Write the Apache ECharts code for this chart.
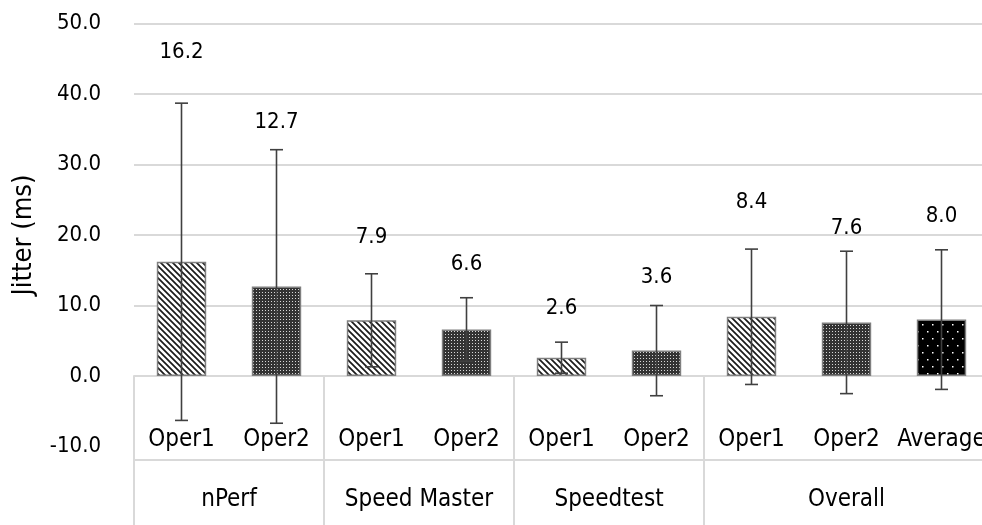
<!DOCTYPE html>
<html><head><meta charset="utf-8">
<script src="https://cdn.jsdelivr.net/npm/echarts@6/dist/echarts.min.js"></script>
<style>html,body{margin:0;padding:0;background:#fff}#c{width:982px;height:525px}</style>
</head><body><div id="c"></div>
<script>
// ---------- data ----------
const categories = ['Oper1','Oper2','Oper1','Oper2','Oper1','Oper2','Oper1','Oper2','Average'];
const groups = ['nPerf','Speed Master','Speedtest','Overall'];
const groupSizes = [2,2,2,3];
const jitterMean = [16.2,12.7,7.9,6.6,2.6,3.6,8.4,7.6,8.0];
const jitterSD = [22.5,19.4,6.6,4.5,2.2,6.4,9.6,10.1,9.9];
const yTicks = [-10,0,10,20,30,40,50];
const yTitle = 'Jitter (ms)';

// ---------- style ----------
const FONT = '"DejaVu Sans Condensed","DejaVu Sans",sans-serif';
const FS = 22;      // ticks & value labels
const FS_CAT = 24;  // category labels
const FS_TITLE = 27;
const GRID = '#d9d9d9';
const labelLift = [51,27,36,33,34,28,47,23,34];

function tile(w, h, draw) {
  const c = document.createElement('canvas'); c.width = w; c.height = h;
  draw(c.getContext('2d')); return c;
}
const hatch = tile(6, 6, g => {
  g.fillStyle = '#fff'; g.fillRect(0,0,6,6);
  g.strokeStyle = '#1a1a1a'; g.lineWidth = 1.7;
  g.beginPath();
  g.moveTo(-2,-2); g.lineTo(8,8);
  g.moveTo(-2,4); g.lineTo(2,8);
  g.moveTo(4,-2); g.lineTo(8,2);
  g.stroke();
});
const dotGrid = tile(3, 3, g => {
  g.fillStyle = '#333'; g.fillRect(0,0,3,3);
  g.fillStyle = '#d8d8d8'; g.fillRect(1,1,1,1);
});
const sparseDots = tile(10, 14, g => {
  g.fillStyle = '#000'; g.fillRect(0,0,10,14);
  g.fillStyle = '#fff';
  g.fillRect(2,2,1.5,1.5); g.fillRect(7,9,1.5,1.5);
});
const patternOf = name => name === 'Oper1' ? hatch : (name === 'Oper2' ? dotGrid : sparseDots);

const groupStarts = [];
groupSizes.reduce((acc, n) => { groupStarts.push(acc); return acc + n; }, 0);

const chart = echarts.init(document.getElementById('c'), null, {renderer: 'canvas'});
chart.setOption({
  animation: false,
  backgroundColor: '#fff',
  grid: {left: 134, right: -7, top: 23.5, bottom: 78.5, containLabel: false, outerBoundsMode: 'none'},
  xAxis: {
    type: 'category', data: categories,
    axisLine: {show: true, onZero: true, lineStyle: {color: GRID, width: 2}},
    axisTick: {show: false},
    axisLabel: {show: false},
    splitLine: {show: false}
  },
  yAxis: {
    type: 'value', min: yTicks[0], max: yTicks[yTicks.length-1], interval: yTicks[1]-yTicks[0],
    axisLine: {show: false}, axisTick: {show: false},
    axisLabel: {margin: 33, color: '#000', fontFamily: FONT, fontSize: FS,
      formatter: v => v.toFixed(1)},
    splitLine: {show: true, lineStyle: {color: yTicks.map(v => v > 0 ? GRID : 'rgba(0,0,0,0)'), width: 2}},
    name: yTitle, nameLocation: 'middle', nameGap: 97, nameRotate: 90, nameMoveOverlap: false,
    nameTextStyle: {color: '#000', fontFamily: FONT, fontSize: FS_TITLE}
  },
  series: [
    {
      type: 'bar', barWidth: '52%',
      data: jitterMean.map((v, i) => ({
        value: v,
        itemStyle: {color: {image: patternOf(categories[i]), repeat: 'repeat'},
          borderColor: '#7f7f7f', borderWidth: 1.5}
      })),
      z: 2
    },
    {
      type: 'custom', z: 5, clip: false,
      encode: {x: 0, y: [1, 2]},
      data: jitterMean.map((m, i) => [i, m - jitterSD[i], m + jitterSD[i], m]),
      renderItem: (params, api) => {
        const i = params.dataIndex;
        const lo = api.coord([api.value(0), api.value(1)]);
        const hi = api.coord([api.value(0), api.value(2)]);
        const x = hi[0], cap = 6.5;
        const st = {stroke: '#404040', lineWidth: 1.6};
        return {type: 'group', children: [
          {type: 'line', shape: {x1: x, y1: hi[1], x2: x, y2: lo[1]}, style: st},
          {type: 'line', shape: {x1: x-cap, y1: hi[1], x2: x+cap, y2: hi[1]}, style: st},
          {type: 'line', shape: {x1: x-cap, y1: lo[1], x2: x+cap, y2: lo[1]}, style: st},
          {type: 'text', x: x, y: hi[1] - labelLift[i],
            style: {text: api.value(3).toFixed(1), fill: '#000', font: FS + 'px ' + FONT,
              align: 'center', verticalAlign: 'middle'}}
        ]};
      }
    },
    {
      // level-1 category labels
      type: 'custom', z: 4, clip: false, silent: true,
      encode: {x: 0, y: 1},
      data: categories.map((c, i) => [i, 0]),
      renderItem: (params, api) => {
        const p = api.coord([api.value(0), 0]);
        return {type: 'text', x: p[0], y: p[1] + 64,
          style: {text: categories[params.dataIndex], fill: '#000', font: FS_CAT + 'px ' + FONT,
            align: 'center', verticalAlign: 'middle'}};
      }
    },
    {
      // level-2 group boxes & labels
      type: 'custom', z: 4, clip: false, silent: true,
      encode: {x: 0, y: 1},
      data: groups.map((g, i) => [groupStarts[i], 0, groupSizes[i]]),
      renderItem: (params, api) => {
        const i = params.dataIndex;
        const c0 = api.coord([api.value(0), 0]);
        const bw = api.size([1, 0])[0];
        const left = c0[0] - bw / 2, y0 = c0[1];
        const w = api.value(2) * bw;
        const st = {stroke: GRID, lineWidth: 2};
        return {type: 'group', children: [
          {type: 'line', shape: {x1: left, y1: y0, x2: left, y2: y0 + 170}, style: st},
          {type: 'line', shape: {x1: left, y1: y0 + 84, x2: left + w, y2: y0 + 84}, style: st},
          {type: 'text', x: left + w / 2, y: y0 + 124,
            style: {text: groups[i], fill: '#000', font: FS_CAT + 'px ' + FONT,
              align: 'center', verticalAlign: 'middle'}}
        ]};
      }
    }
  ]
});
</script></body></html>
